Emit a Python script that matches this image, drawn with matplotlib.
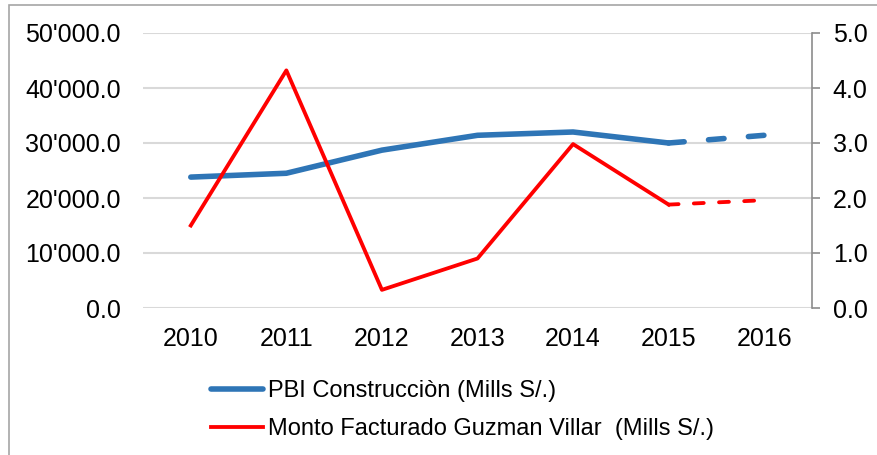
import matplotlib.pyplot as plt
from matplotlib.lines import Line2D
from matplotlib.patches import Rectangle
from matplotlib.ticker import FuncFormatter, MultipleLocator

plt.rcParams['font.family'] = ['Liberation Sans', 'DejaVu Sans']

years = ['2010', '2011', '2012', '2013', '2014', '2015', '2016']
pbi = [23800, 24500, 28700, 31400, 32000, 30000, 31400]
monto = [1.5, 4.32, 0.33, 0.9, 2.98, 1.88, 1.96]
n_solid = 6  # last segment (2015-2016) is dashed

blue = '#2e75b6'
red = '#ff0000'
grid_c = '#d9d9d9'
spine_c = '#8c8c8c'

fig = plt.figure(figsize=(8.77, 4.55), dpi=100)
ax = fig.add_axes([143 / 877, 147 / 455, 669 / 877, 275 / 455])
ax2 = ax.twinx()

x = list(range(len(years)))

ax.plot(x[:n_solid], pbi[:n_solid], color=blue, lw=4, solid_capstyle='round', zorder=3)
ax.plot(x[n_solid - 1:], pbi[n_solid - 1:], color=blue, lw=4, ls=(0, (2.8, 4.4)),
        dash_capstyle='round', zorder=3)
ax2.plot(x[:n_solid], monto[:n_solid], color=red, lw=2.75, zorder=3)
ax2.plot(x[n_solid - 1:], monto[n_solid - 1:], color=red, lw=2.75, ls=(0, (2.6, 4)),
         dash_capstyle='round', zorder=3)

ax.set_xlim(-0.5, len(years) - 0.5)
ax.set_ylim(0, 50000)
ax2.set_ylim(0, 5)
ax.yaxis.set_major_locator(MultipleLocator(10000))
ax2.yaxis.set_major_locator(MultipleLocator(1))
ax.yaxis.set_major_formatter(FuncFormatter(lambda v, p: f"{v:,.1f}".replace(',', "'")))
ax2.yaxis.set_major_formatter(FuncFormatter(lambda v, p: f"{v:.1f}"))

ax.set_xticks(x)
ax.set_xticklabels(years)
ax.grid(axis='y', color=grid_c, lw=1.5, zorder=0)
ax.set_axisbelow(True)

for a in (ax, ax2):
    for s in ('top', 'left', 'bottom'):
        a.spines[s].set_visible(False)
ax.spines['right'].set_visible(False)
ax2.spines['right'].set_color(spine_c)
ax2.spines['right'].set_linewidth(1.2)

ax.tick_params(axis='x', length=0, pad=14, labelsize=18)
ax.tick_params(axis='y', length=0, pad=16, labelsize=18)
ax2.tick_params(axis='y', length=6, width=1.2, color=spine_c, pad=9, labelsize=18)

handles = [Line2D([], [], color=blue, lw=4, solid_capstyle='round'),
           Line2D([], [], color=red, lw=2.75)]
labels = ['PBI Construcciòn (Mills S/.)', 'Monto Facturado Guzman Villar  (Mills S/.)']
fig.legend(handles, labels, loc='upper left', bbox_to_anchor=(192 / 877, 1 - 361 / 455),
           frameon=False, fontsize=17, handlelength=2.2, handletextpad=0.2,
           labelspacing=0.68, borderpad=0.3)

fig.patches.append(Rectangle((9 / 877, -0.1), 1.2, 1.1 - 5 / 455, transform=fig.transFigure,
                             fill=False, edgecolor='#a6a6a6', lw=1.2))

fig.savefig('out.png', dpi=100)
